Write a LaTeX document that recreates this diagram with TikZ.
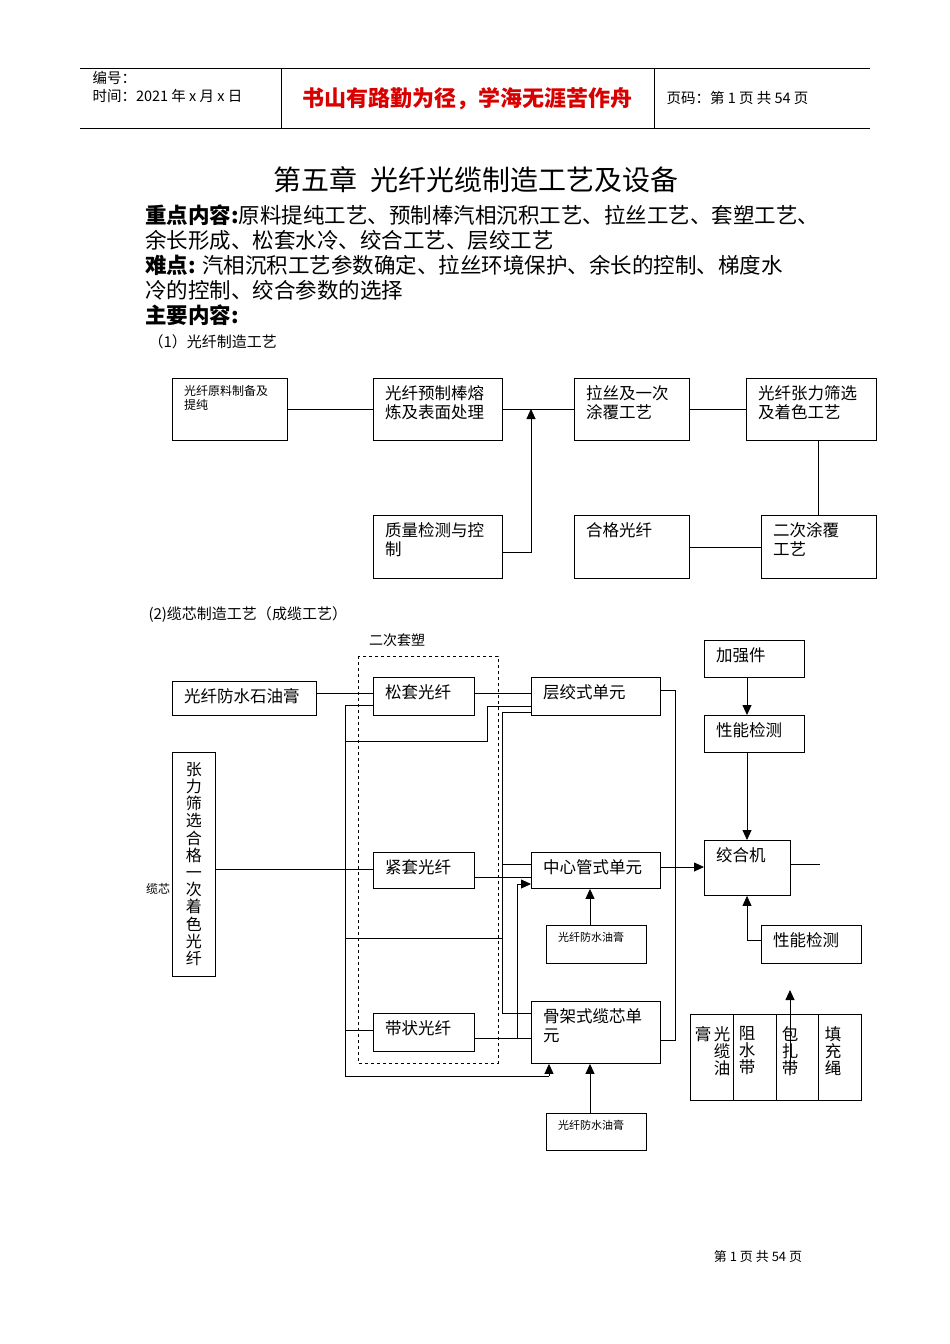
\documentclass[tikz,border=0pt]{standalone}
\usepackage{fontspec}
\setmainfont{Noto Sans CJK SC}
\usetikzlibrary{arrows.meta}
\newcommand{\bx}[7][15pt]{%
  \node[draw,line width=0.9pt,inner sep=0,minimum width={(#4-#2)*1pt},minimum height={(#5-#3)*1pt},anchor=north west] (#6) at (#2,#3) {};
  \node[anchor=north west,align=left,inner sep=0,font=\fontsize{#1}{1.15\dimexpr#1\relax}\selectfont] (#6t) at ([xshift=12pt,yshift=-7pt]#6.north west) {#7};}
\tikzset{ln/.style={line width=0.9pt},ar/.style={line width=0.9pt,-{Triangle[length=10pt,width=9pt]}}}
\begin{document}
\begin{tikzpicture}[x=1pt,y=-1pt]
\useasboundingbox (0,0) rectangle (950,1344);
% header
\draw[line width=0.6pt] (80,68) coordinate(h1) -- (870,68) coordinate(h2);
\draw[line width=0.6pt] (80,128) coordinate(h3) -- (870,128) coordinate(h4);
\draw[line width=0.6pt] (281,68) coordinate(v1) -- (281,128) coordinate(v2);
\draw[line width=0.6pt] (654,68) coordinate(v3) -- (654,128) coordinate(v4);
\node[anchor=west,font=\fontsize{14.5}{16}\selectfont] (hn) at (89,78) {编号：};
\node[anchor=west,font=\fontsize{14.5}{16}\selectfont] (ht) at (89,96) {时间：2021 年 x 月 x 日};
\node[font=\fontsize{22}{24}\selectfont\bfseries,text=red!85!black] (hm) at (467,99) {书山有路勤为径，学海无涯苦作舟};
\node[anchor=west,font=\fontsize{14.5}{16}\selectfont] (hp) at (663,98) {页码：第 1 页 共 54 页};
% title and text
\node[font=\fontsize{28}{30}\selectfont] (title) at (476,180) {第五章\ \ 光纤光缆制造工艺及设备};
\node[anchor=north west,align=left,inner sep=0,font=\fontsize{21.5}{25}\selectfont] (body) at (145,205)
{\textbf{重点内容:}原料提纯工艺、预制棒汽相沉积工艺、拉丝工艺、套塑工艺、\\
余长形成、松套水冷、绞合工艺、层绞工艺\\
\textbf{难点:} 汽相沉积工艺参数确定、拉丝环境保护、余长的控制、梯度水\\
冷的控制、绞合参数的选择\\
\textbf{主要内容:}};
\node[anchor=west,font=\fontsize{15}{17}\selectfont] (s1) at (145,342) {（1）光纤制造工艺};
% diagram 1
\bx[12pt]{172}{378}{287}{440}{A}{光纤原料制备及\\提纯}
\bx[16.5pt]{373}{378}{502}{440}{B}{光纤预制棒熔\\炼及表面处理}
\bx[16.5pt]{574}{378}{689}{440}{C}{拉丝及一次\\涂覆工艺}
\bx[16.5pt]{746}{378}{876}{440}{D}{光纤张力筛选\\及着色工艺}
\bx[16.5pt]{373}{515}{502}{578}{E}{质量检测与控\\制}
\bx[16.5pt]{574}{515}{689}{578}{F}{合格光纤}
\bx[16.5pt]{761}{515}{876}{578}{G}{二次涂覆\\工艺}
\draw[ln] (A.east|-0,409) -- (B.west|-0,409);
\draw[ln] (B.east|-0,409) -- (C.west|-0,409);
\draw[ln] (C.east|-0,409) -- (D.west|-0,409);
\draw[ar] (E.east|-0,552) -- (531,552) -- (531,409);
\draw[ln] (D.south-|818,0) -- (G.north-|818,0);
\draw[ln] (G.west|-0,547) -- (F.east|-0,547);
% diagram 2
\node[anchor=west,font=\fontsize{15}{17}\selectfont] (s2) at (145,615) {(2)缆芯制造工艺（成缆工艺）};
\node[font=\fontsize{14}{16}\selectfont] (ec) at (397,640) {二次套塑};
\draw[line width=0.8pt,dashed] (358,656) rectangle (498,1063);
\bx[16.5pt]{172}{681}{316}{715}{P}{光纤防水石油膏}
\bx[16.5pt]{373}{677}{474}{715}{L}{松套光纤}
\bx[16.5pt]{531}{677}{660}{715}{CJ}{层绞式单元}
\bx[16.5pt]{373}{852}{474}{888}{T}{紧套光纤}
\bx[16.5pt]{531}{852}{660}{888}{ZX}{中心管式单元}
\bx[16.5pt]{373}{1013}{474}{1051}{DZ}{带状光纤}
\bx[16.5pt]{531}{1001}{660}{1063}{GJ}{骨架式缆芯单\\元}
\bx[11pt]{546}{925}{646}{963}{Y1}{光纤防水油膏}
\bx[11pt]{546}{1113}{646}{1150}{Y2}{光纤防水油膏}
\bx[16.5pt]{704}{640}{804}{677}{JQ}{加强件}
\bx[16.5pt]{704}{715}{804}{752}{XN1}{性能检测}
\bx[16.5pt]{704}{840}{790}{895}{JH}{绞合机}
\bx[16.5pt]{761}{925}{861}{963}{XN2}{性能检测}
\node[draw,line width=0.9pt,inner sep=0,minimum width=43pt,minimum height=224pt,anchor=north west] (ZL) at (172,752) {};
\node[anchor=north,align=center,inner sep=0,font=\fontsize{16}{17.2}\selectfont] (ZLt) at ([yshift=-10pt]ZL.north) {张\\力\\筛\\选\\合\\格\\一\\次\\着\\色\\光\\纤};
\node[font=\fontsize{12}{14}\selectfont] (lx) at (158,889) {缆芯};
% materials box
\node[draw,line width=0.9pt,inner sep=0,minimum width=171pt,minimum height=86pt,anchor=north west] (MB) at (690,1014) {};
\draw[ln] (733,1014) coordinate(m1) -- (733,1100);
\draw[ln] (776,1014) coordinate(m2) -- (776,1100);
\draw[ln] (818,1014) coordinate(m3) -- (818,1100);
\tikzset{vt/.style={anchor=north,align=center,inner sep=0,font=\fontsize{16.5}{17}\selectfont}}
\node[vt] (mt0) at (703,1026) {膏};
\node[vt] (mt1) at (722,1026) {光\\缆\\油};
\node[vt] (mt2) at (747,1026) {阻\\水\\带};
\node[vt] (mt3) at (790,1026) {包\\扎\\带};
\node[vt] (mt4) at (833,1026) {填\\充\\绳};
% connectors
\draw[ln] (P.east|-0,693) -- (L.west|-0,693);
\draw[ln] (L.east|-0,693) -- (CJ.west|-0,693);
\draw[ln] (L.west|-0,705) -- (345,705) -- (345,1076) coordinate(b1) -- (549,1076) coordinate(b2);
\draw[ar] (b2) -- (GJ.south-|549,0);
\draw[ln] (345,741) -- (487,741) -- (487,706) -- (CJ.west|-0,706);
\draw[ln] (CJ.west|-0,712) -- (502,712) -- (502,1013) -- (GJ.west|-0,1013);
\draw[ln] (ZL.east|-0,869) -- (T.west|-0,869);
\draw[ln] (T.east|-0,877) -- (ZX.west|-0,877);
\draw[ln] (502,864) -- (ZX.west|-0,864);
\draw[ar] (517,1038) -- (517,884) -- (ZX.west|-0,884);
\draw[ln] (345,938) -- (502,938);
\draw[ln] (345,1030) -- (DZ.west|-0,1030);
\draw[ln] (DZ.east|-0,1038) -- (GJ.west|-0,1038);
\draw[ln] (CJ.east|-0,690) -- (675,690) -- (675,1040) -- (GJ.east|-0,1040);
\draw[ar] (Y1.north-|590,0) -- (ZX.south-|590,0);
\draw[ar] (Y2.north-|590,0) -- (GJ.south-|590,0);
\draw[ar] (ZX.east|-0,867) -- (JH.west|-0,867);
\draw[ar] (JQ.south-|747,0) -- (XN1.north-|747,0);
\draw[ar] (XN1.south-|747,0) -- (JH.north-|747,0);
\draw[ar] (XN2.west|-0,940) -- (747,940) -- (JH.south-|747,0);
\draw[ln] (JH.east|-0,864) -- (820,864) coordinate(je);
\draw[ar] (790,1070) coordinate(pa) -- (790,990);
% footer
\node[font=\fontsize{13}{15}\selectfont] (ft) at (758,1257) {第 1 页 共 54 页};
\end{tikzpicture}
\end{document}
